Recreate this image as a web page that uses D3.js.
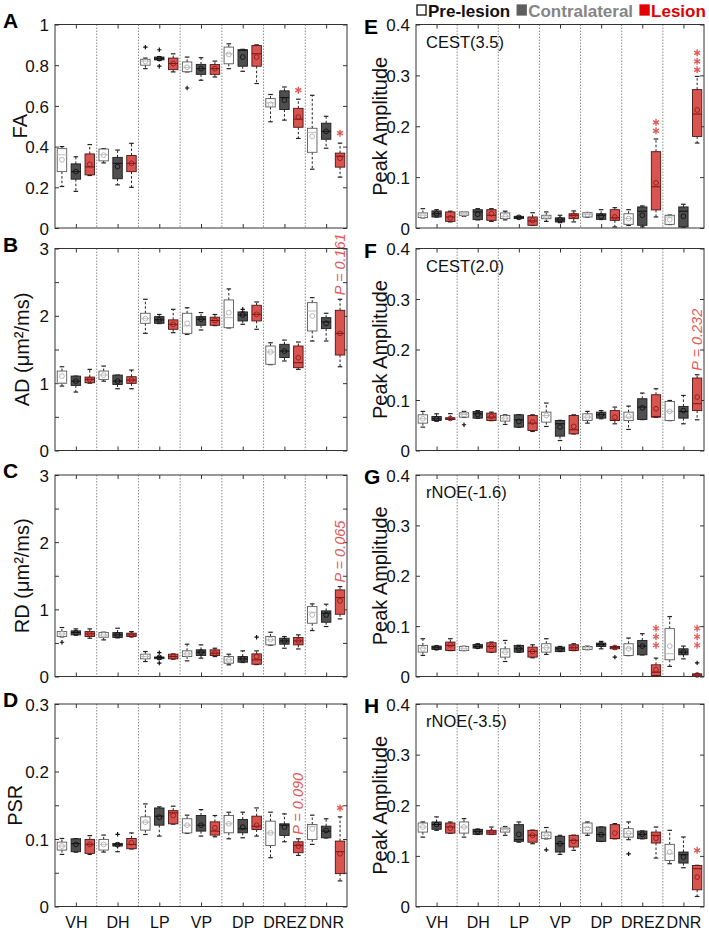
<!DOCTYPE html>
<html>
<head>
<meta charset="utf-8">
<script src="https://cdn.jsdelivr.net/npm/d3@7"></script>
<style>
  body { margin: 0; background: #fff; }
  text { font-family: "Liberation Sans", Arial, sans-serif; }
</style>
</head>
<body>
<svg id="fig" width="709" height="934"></svg>
<script>
const groups = ["VH", "DH", "LP", "VP", "DP", "DREZ", "DNR"];
const conditions = ["Pre-lesion", "Contralateral", "Lesion"];

// each row: [low whisker, q1, median, q3, high whisker, mean]; 3 rows per group (pre, contra, lesion)
const faBoxes = [
  [0.204, 0.277, 0.36, 0.39, 0.40, 0.335], [0.18, 0.24, 0.277, 0.315, 0.35, 0.277], [0.258, 0.261, 0.30, 0.364, 0.41, 0.313],
  [0.32, 0.33, 0.36, 0.388, 0.39, 0.358], [0.212, 0.242, 0.318, 0.347, 0.383, 0.302], [0.2, 0.277, 0.318, 0.356, 0.416, 0.318],
  [0.783, 0.80, 0.82, 0.829, 0.835, 0.818], [0.824, 0.826, 0.832, 0.84, 0.842, 0.832], [0.767, 0.778, 0.808, 0.835, 0.856, 0.808],
  [0.767, 0.768, 0.79, 0.816, 0.84, 0.79], [0.726, 0.755, 0.783, 0.804, 0.837, 0.783], [0.742, 0.755, 0.783, 0.803, 0.82, 0.783],
  [0.783, 0.807, 0.856, 0.889, 0.905, 0.853], [0.77, 0.795, 0.873, 0.876, 0.878, 0.84], [0.71, 0.795, 0.856, 0.897, 0.9, 0.84],
  [0.522, 0.595, 0.615, 0.636, 0.656, 0.608], [0.53, 0.582, 0.641, 0.674, 0.693, 0.628], [0.44, 0.495, 0.535, 0.588, 0.633, 0.545],
  [0.289, 0.372, 0.47, 0.49, 0.652, 0.45], [0.392, 0.436, 0.475, 0.515, 0.549, 0.475], [0.25, 0.299, 0.353, 0.368, 0.417, 0.343]
];
const adBoxes = [
  [0.957, 0.997, 1.006, 1.18, 1.244, 1.105], [0.868, 0.967, 1.03, 1.105, 1.105, 1.03], [1.0, 1.006, 1.056, 1.09, 1.205, 1.056],
  [1.03, 1.056, 1.12, 1.18, 1.254, 1.12], [0.917, 0.98, 1.03, 1.12, 1.12, 1.03], [0.917, 0.997, 1.046, 1.096, 1.195, 1.046],
  [1.74, 1.889, 1.958, 2.038, 2.246, 1.958], [1.885, 1.889, 1.94, 1.988, 2.02, 1.94], [1.75, 1.8, 1.874, 1.94, 2.097, 1.874],
  [1.725, 1.74, 1.85, 2.038, 2.12, 1.889], [1.79, 1.86, 1.95, 1.988, 2.048, 1.95], [1.855, 1.86, 1.93, 1.98, 2.02, 1.93],
  [1.82, 1.824, 1.973, 2.236, 2.4, 2.048], [1.874, 1.924, 2.013, 2.058, 2.058, 2.013], [1.8, 1.924, 2.023, 2.157, 2.206, 2.023],
  [1.275, 1.28, 1.463, 1.552, 1.60, 1.463], [1.33, 1.38, 1.477, 1.577, 1.64, 1.477], [1.205, 1.23, 1.304, 1.552, 1.611, 1.378],
  [1.626, 1.775, 2.072, 2.196, 2.27, 1.998], [1.626, 1.81, 1.909, 1.973, 2.038, 1.889], [1.244, 1.418, 1.74, 2.082, 2.246, 1.74]
];
const rdBoxes = [
  [0.59, 0.595, 0.635, 0.669, 0.729, 0.635], [0.615, 0.62, 0.654, 0.679, 0.709, 0.654], [0.57, 0.595, 0.635, 0.669, 0.709, 0.635],
  [0.545, 0.585, 0.62, 0.654, 0.66, 0.62], [0.575, 0.58, 0.62, 0.654, 0.719, 0.62], [0.59, 0.595, 0.62, 0.645, 0.669, 0.62],
  [0.223, 0.263, 0.297, 0.332, 0.372, 0.297], [0.255, 0.265, 0.283, 0.29, 0.3, 0.283], [0.258, 0.263, 0.297, 0.332, 0.336, 0.297],
  [0.233, 0.297, 0.337, 0.382, 0.481, 0.337], [0.273, 0.312, 0.362, 0.397, 0.471, 0.362], [0.297, 0.312, 0.347, 0.397, 0.421, 0.347],
  [0.174, 0.198, 0.248, 0.297, 0.332, 0.248], [0.208, 0.213, 0.263, 0.297, 0.382, 0.263], [0.178, 0.183, 0.248, 0.337, 0.382, 0.297],
  [0.466, 0.471, 0.545, 0.595, 0.659, 0.55], [0.421, 0.481, 0.53, 0.57, 0.595, 0.53], [0.41, 0.471, 0.53, 0.58, 0.62, 0.53],
  [0.684, 0.793, 0.957, 1.041, 1.081, 0.917], [0.744, 0.808, 0.942, 0.977, 1.076, 0.917], [0.858, 0.927, 1.175, 1.289, 1.339, 1.125]
];
const psrBoxes = [
  [0.0772, 0.0836, 0.0895, 0.0954, 0.1008, 0.0895], [0.0805, 0.0812, 0.093, 0.1003, 0.1006, 0.092], [0.0772, 0.0787, 0.092, 0.0994, 0.105, 0.092],
  [0.0807, 0.0836, 0.092, 0.0994, 0.1058, 0.092], [0.0812, 0.0895, 0.0915, 0.0935, 0.0938, 0.0915], [0.0852, 0.0856, 0.092, 0.1008, 0.109, 0.0944],
  [0.1067, 0.1131, 0.125, 0.1328, 0.152, 0.125], [0.1043, 0.1205, 0.1338, 0.146, 0.1476, 0.1323], [0.122, 0.1225, 0.1387, 0.142, 0.1486, 0.1348],
  [0.1085, 0.109, 0.1205, 0.13, 0.1353, 0.1205], [0.1043, 0.1117, 0.1205, 0.1348, 0.1436, 0.1205], [0.1033, 0.1058, 0.1117, 0.1254, 0.1348, 0.1166],
  [0.1003, 0.1092, 0.1225, 0.1348, 0.1397, 0.1225], [0.1018, 0.1092, 0.1151, 0.1289, 0.1397, 0.1176], [0.1043, 0.1141, 0.119, 0.1338, 0.146, 0.1205],
  [0.0723, 0.0905, 0.109, 0.1264, 0.1397, 0.109], [0.0959, 0.1053, 0.1205, 0.1225, 0.1372, 0.1176], [0.0757, 0.0797, 0.0905, 0.0959, 0.1003, 0.0895],
  [0.092, 0.0994, 0.119, 0.1215, 0.1353, 0.1151], [0.1015, 0.1018, 0.1117, 0.119, 0.13, 0.1126], [0.0379, 0.0487, 0.0812, 0.0969, 0.1328, 0.0782]
];
const cest35Boxes = [
  [0.02, 0.0204, 0.025, 0.0296, 0.038, 0.025], [0.0214, 0.0217, 0.028, 0.0336, 0.036, 0.028], [0.012, 0.013, 0.0217, 0.0316, 0.033, 0.02],
  [0.023, 0.025, 0.028, 0.0316, 0.032, 0.028], [0.016, 0.0164, 0.0316, 0.036, 0.038, 0.027], [0.013, 0.015, 0.025, 0.036, 0.038, 0.028],
  [0.016, 0.0184, 0.023, 0.0296, 0.033, 0.023], [0.018, 0.0184, 0.021, 0.023, 0.0234, 0.021], [0.005, 0.0053, 0.0138, 0.0217, 0.03, 0.015],
  [0.013, 0.0184, 0.0217, 0.025, 0.0316, 0.0217], [0.0105, 0.0118, 0.016, 0.02, 0.025, 0.017], [0.012, 0.0184, 0.025, 0.028, 0.0336, 0.025],
  [0.0214, 0.0217, 0.027, 0.03, 0.0304, 0.027], [0.0166, 0.017, 0.025, 0.028, 0.036, 0.023], [0.002, 0.015, 0.02, 0.036, 0.04, 0.0217],
  [0.005, 0.0072, 0.0184, 0.028, 0.036, 0.0184], [0.002, 0.0053, 0.033, 0.0414, 0.0434, 0.025], [0.0217, 0.0355, 0.081, 0.15, 0.175, 0.0887],
  [0.0068, 0.0072, 0.0217, 0.025, 0.0254, 0.0164], [0.0016, 0.002, 0.033, 0.0414, 0.0467, 0.023], [0.167, 0.18, 0.224, 0.272, 0.298, 0.232]
];
const cest20Boxes = [
  [0.0463, 0.0542, 0.0628, 0.0707, 0.0774, 0.0628], [0.058, 0.0595, 0.0628, 0.0674, 0.0727, 0.0628], [0.0612, 0.0615, 0.0628, 0.0648, 0.073, 0.0635],
  [0.0657, 0.0661, 0.0714, 0.0747, 0.0774, 0.0714], [0.0637, 0.0641, 0.0727, 0.0774, 0.079, 0.0714], [0.0591, 0.0595, 0.0661, 0.074, 0.076, 0.0674],
  [0.0516, 0.0582, 0.064, 0.0694, 0.0707, 0.064], [0.046, 0.0463, 0.0608, 0.0707, 0.071, 0.0575], [0.0377, 0.0397, 0.0542, 0.0694, 0.0707, 0.0562],
  [0.0476, 0.0562, 0.0694, 0.076, 0.0939, 0.0694], [0.0198, 0.0284, 0.0529, 0.0595, 0.0598, 0.0463], [0.0327, 0.033, 0.041, 0.0694, 0.0707, 0.0476],
  [0.0542, 0.0595, 0.0661, 0.0727, 0.0774, 0.0661], [0.0628, 0.0641, 0.0707, 0.076, 0.079, 0.0707], [0.0529, 0.0595, 0.0598, 0.079, 0.086, 0.0661],
  [0.0417, 0.0595, 0.0661, 0.076, 0.088, 0.068], [0.0612, 0.0615, 0.086, 0.1025, 0.1137, 0.0846], [0.0658, 0.0661, 0.0674, 0.1104, 0.1223, 0.0826],
  [0.0592, 0.0595, 0.0774, 0.0972, 0.099, 0.0774], [0.0529, 0.0641, 0.0774, 0.0873, 0.109, 0.079], [0.0608, 0.079, 0.0926, 0.1435, 0.15, 0.1058]
];
const rnoe16Boxes = [
  [0.0418, 0.0484, 0.0564, 0.0617, 0.075, 0.055], [0.0534, 0.0537, 0.057, 0.0604, 0.0607, 0.057], [0.0514, 0.0517, 0.0617, 0.0683, 0.075, 0.063],
  [0.0514, 0.0517, 0.055, 0.0597, 0.06, 0.055], [0.0561, 0.0564, 0.0597, 0.0637, 0.065, 0.0597], [0.0481, 0.0484, 0.0597, 0.067, 0.0683, 0.0597],
  [0.0298, 0.0385, 0.0484, 0.055, 0.0716, 0.0484], [0.0481, 0.0484, 0.055, 0.0617, 0.062, 0.055], [0.0371, 0.0385, 0.0497, 0.0584, 0.063, 0.0497],
  [0.0438, 0.0484, 0.057, 0.065, 0.075, 0.057], [0.0494, 0.0497, 0.055, 0.0584, 0.0597, 0.055], [0.0514, 0.0517, 0.057, 0.063, 0.065, 0.057],
  [0.0534, 0.0537, 0.057, 0.0597, 0.0604, 0.057], [0.055, 0.0597, 0.0637, 0.0663, 0.0697, 0.0637], [0.0547, 0.055, 0.0575, 0.0597, 0.06, 0.0575],
  [0.0415, 0.0418, 0.0564, 0.065, 0.0763, 0.055], [0.0428, 0.0431, 0.0604, 0.0716, 0.085, 0.0604], [0.0017, 0.002, 0.0086, 0.0232, 0.0365, 0.0133],
  [0.02, 0.0332, 0.0451, 0.095, 0.119, 0.0604], [0.035, 0.0431, 0.0484, 0.055, 0.0604, 0.0484], [0.0004, 0.0007, 0.003, 0.0053, 0.0056, 0.003]
];
const rnoe35Boxes = [
  [0.137, 0.147, 0.157, 0.165, 0.167, 0.157], [0.1505, 0.1525, 0.162, 0.167, 0.177, 0.162], [0.1447, 0.145, 0.157, 0.165, 0.167, 0.155],
  [0.137, 0.145, 0.157, 0.167, 0.1736, 0.157], [0.1423, 0.1426, 0.1485, 0.1525, 0.1528, 0.1485], [0.1423, 0.1426, 0.147, 0.1505, 0.157, 0.147],
  [0.1406, 0.147, 0.152, 0.155, 0.158, 0.152], [0.127, 0.1287, 0.132, 0.1617, 0.167, 0.1426], [0.124, 0.127, 0.1406, 0.1505, 0.1508, 0.1406],
  [0.1337, 0.134, 0.1406, 0.147, 0.156, 0.1406], [0.103, 0.1076, 0.124, 0.1386, 0.1406, 0.124], [0.111, 0.1175, 0.1307, 0.1406, 0.1409, 0.129],
  [0.1406, 0.145, 0.156, 0.165, 0.167, 0.154], [0.1284, 0.1287, 0.142, 0.157, 0.1573, 0.142], [0.1337, 0.134, 0.1343, 0.1617, 0.1637, 0.145],
  [0.132, 0.137, 0.144, 0.1538, 0.167, 0.145], [0.1337, 0.134, 0.1426, 0.149, 0.1493, 0.1426], [0.0957, 0.1254, 0.1406, 0.147, 0.157, 0.135],
  [0.0845, 0.091, 0.104, 0.1228, 0.1505, 0.1076], [0.0766, 0.0858, 0.1023, 0.1076, 0.1373, 0.0977], [0.0198, 0.033, 0.0746, 0.081, 0.0813, 0.058]
];

// outliers: [box index, value]
const faOutliers = [[6, 0.889], [7, 0.876], [7, 0.795], [9, 0.688]];
const adOutliers = [[13, 2.097]];
const rdOutliers = [[0, 0.51], [7, 0.355], [7, 0.2], [14, 0.585]];
const psrOutliers = [[4, 0.107]];
const cest35Outliers = [];
const cest20Outliers = [[3, 0.051]];
const rnoe16Outliers = [[14, 0.0385], [20, 0.027]];
const rnoe35Outliers = [[9, 0.112], [15, 0.104]];

// significance stars: [box index, value of lowest star, count]
const faStars = [[17, 0.677, 1], [20, 0.466, 1]];
const psrStars = [[20, 0.146, 1]];
const cest35Stars = [[17, 0.191, 2], [20, 0.311, 3]];
const rnoe16Stars = [[17, 0.062, 3], [20, 0.062, 3]];
const rnoe35Stars = [[20, 0.111, 1]];

// p-value notes: [box index, text]
const adNotes = [[20, "P = 0.161"]];
const rdNotes = [[20, "P = 0.065"]];
const psrNotes = [[17, "P = 0.090"]];
const cest20Notes = [[20, "P = 0.232"]];

const svg = d3.select("#fig");

const rows = [{top: 24.5, bottom: 228}, {top: 248.5, bottom: 450.5}, {top: 475, bottom: 676.5}, {top: 704, bottom: 906.5}];
const cols = [{left: 55, right: 347, letterX: 3, labelX: 29}, {left: 416, right: 704, letterX: 364, labelX: 387}];

const panels = [
  {letter: "A", col: 0, row: 0, boxes: faBoxes, outliers: faOutliers, stars: faStars, notes: [], domain: [0, 1], tick: 0.2, label: 0.2, ylabel: "FA", labelX: 27},
  {letter: "B", col: 0, row: 1, boxes: adBoxes, outliers: adOutliers, stars: [], notes: adNotes, domain: [0, 3], tick: 0.5, label: 1, ylabel: "AD (μm²/ms)"},
  {letter: "C", col: 0, row: 2, boxes: rdBoxes, outliers: rdOutliers, stars: [], notes: rdNotes, domain: [0, 3], tick: 0.5, label: 1, ylabel: "RD (μm²/ms)"},
  {letter: "D", col: 0, row: 3, boxes: psrBoxes, outliers: psrOutliers, stars: psrStars, notes: psrNotes, domain: [0, 0.3], tick: 0.05, label: 0.1, ylabel: "PSR", labelX: 22},
  {letter: "E", col: 1, row: 0, boxes: cest35Boxes, outliers: cest35Outliers, stars: cest35Stars, notes: [], domain: [0, 0.4], tick: 0.1, label: 0.1, ylabel: "Peak Amplitude", title: "CEST(3.5)"},
  {letter: "F", col: 1, row: 1, boxes: cest20Boxes, outliers: cest20Outliers, stars: [], notes: cest20Notes, domain: [0, 0.4], tick: 0.1, label: 0.1, ylabel: "Peak Amplitude", title: "CEST(2.0)"},
  {letter: "G", col: 1, row: 2, boxes: rnoe16Boxes, outliers: rnoe16Outliers, stars: rnoe16Stars, notes: [], domain: [0, 0.4], tick: 0.1, label: 0.1, ylabel: "Peak Amplitude", title: "rNOE(-1.6)"},
  {letter: "H", col: 1, row: 3, boxes: rnoe35Boxes, outliers: rnoe35Outliers, stars: rnoe35Stars, notes: [], domain: [0, 0.4], tick: 0.1, label: 0.1, ylabel: "Peak Amplitude", title: "rNOE(-3.5)"}
];

const styles = [
  {fill: "#ffffff", stroke: "#5a5a5a", median: "#bdbdbd", mean: "#b0b0b0"},
  {fill: "#4f4f4f", stroke: "#1c1c1c", median: "#111111", mean: "#111111"},
  {fill: "#d9544f", stroke: "#4a1515", median: "#7a1212", mean: "#8e1c1c"}
];
const starColor = "#e25a57";

function drawPanel(p) {
  const c = cols[p.col], r = rows[p.row];
  const x = d3.scaleLinear().domain([0.5, 21.5]).range([c.left, c.right]);
  const y = d3.scaleLinear().domain(p.domain).range([r.bottom, r.top]);
  const g = svg.append("g");
  const unit = x(2) - x(1);
  const bw = unit * 0.68;

  // group dividers
  g.selectAll(".div").data(d3.range(1, groups.length)).join("line")
    .attr("x1", d => x(d * 3 + 0.5)).attr("x2", d => x(d * 3 + 0.5))
    .attr("y1", r.top).attr("y2", r.bottom)
    .attr("stroke", "#8a8a8a").attr("stroke-width", 1).attr("stroke-dasharray", "1.5,1.5");

  // axes
  const nT = Math.round((p.domain[1] - p.domain[0]) / p.tick);
  const ticks = d3.range(nT + 1).map(i => +(p.domain[0] + i * p.tick).toFixed(4));
  const isLabel = v => Math.abs(v / p.label - Math.round(v / p.label)) < 1e-6;
  const fmt = v => isLabel(v) ? String(+v.toFixed(3)) : "";

  const yl = g.append("g").attr("transform", `translate(${c.left},0)`)
    .call(d3.axisLeft(y).tickValues(ticks).tickSize(-4).tickPadding(6).tickFormat(fmt));
  const yr = g.append("g").attr("transform", `translate(${c.right},0)`)
    .call(d3.axisRight(y).tickValues(ticks).tickSize(-4).tickFormat(""));
  const centers = groups.map((d, i) => i * 3 + 2);
  const xb = g.append("g").attr("transform", `translate(0,${r.bottom})`)
    .call(d3.axisBottom(x).tickValues(centers).tickSize(-4).tickPadding(10)
      .tickFormat((d, i) => p.row === 3 ? groups[i] : ""));
  const xt = g.append("g").attr("transform", `translate(0,${r.top})`)
    .call(d3.axisTop(x).tickValues(centers).tickSize(-4).tickFormat(""));
  [yl, yr, xb, xt].forEach(a => {
    a.select(".domain").remove();
    a.selectAll(".tick line").attr("stroke", "#333");
    a.selectAll(".tick text").attr("fill", "#111").style("font-size", "17px")
      .style("font-family", '"Liberation Sans", Arial, sans-serif');
  });
  yl.selectAll(".tick text").attr("dy", "0.36em");
  xb.selectAll(".tick text").attr("dy", "0.71em").style("font-size", "16px");

  // boxes
  const bx = g.selectAll(".box").data(p.boxes).join("g").attr("class", "box");
  bx.each(function (d, i) {
    const s = styles[i % 3];
    const cx = x(i + 1);
    const b = d3.select(this);
    const [lo, q1, med, q3, hi, mean] = d;
    b.append("line").attr("x1", cx).attr("x2", cx).attr("y1", y(q3)).attr("y2", y(hi))
      .attr("stroke", "#222").attr("stroke-dasharray", "2.5,2");
    b.append("line").attr("x1", cx).attr("x2", cx).attr("y1", y(q1)).attr("y2", y(lo))
      .attr("stroke", "#222").attr("stroke-dasharray", "2.5,2");
    [lo, hi].forEach(v => b.append("line").attr("x1", cx - 2.3).attr("x2", cx + 2.3)
      .attr("y1", y(v)).attr("y2", y(v)).attr("stroke", "#222").attr("stroke-width", 1.2));
    b.append("rect").attr("x", cx - bw / 2).attr("width", bw)
      .attr("y", y(q3)).attr("height", Math.max(0.8, y(q1) - y(q3)))
      .attr("fill", s.fill).attr("stroke", s.stroke).attr("stroke-width", 0.9);
    b.append("line").attr("x1", cx - bw / 2).attr("x2", cx + bw / 2)
      .attr("y1", y(med)).attr("y2", y(med)).attr("stroke", s.median).attr("stroke-width", 1);
    b.append("circle").attr("cx", cx).attr("cy", y(mean)).attr("r", 2.4)
      .attr("fill", "none").attr("stroke", s.mean).attr("stroke-width", 0.9);
  });

  // outliers
  g.selectAll(".out").data(p.outliers).join("path")
    .attr("d", d => {
      const cx = x(d[0] + 1), cy = y(d[1]);
      return `M${cx - 2.2},${cy}H${cx + 2.2}M${cx},${cy - 2.2}V${cy + 2.2}`;
    })
    .attr("stroke", "#111").attr("stroke-width", 1.2);

  // stars
  p.stars.forEach(([i, v, n]) => {
    d3.range(n).forEach(k => {
      const cx = x(i + 1), cy = y(v) - k * 8.5, rr = 3.5;
      const a = Math.PI / 6;
      g.append("path")
        .attr("d", `M${cx},${cy - rr}V${cy + rr}` +
          `M${cx - rr * Math.cos(a)},${cy - rr * Math.sin(a)}L${cx + rr * Math.cos(a)},${cy + rr * Math.sin(a)}` +
          `M${cx - rr * Math.cos(a)},${cy + rr * Math.sin(a)}L${cx + rr * Math.cos(a)},${cy - rr * Math.sin(a)}`)
        .attr("stroke", starColor).attr("stroke-width", 1.4);
    });
  });

  // p-value notes
  p.notes.forEach(([i, t]) => {
    const cx = x(i + 1) + 5, cy = y(p.boxes[i][4]) - 4;
    g.append("text").attr("transform", `translate(${cx},${cy}) rotate(-90)`)
      .attr("fill", starColor).style("font-size", "14.5px").style("font-style", "italic")
      .text(t);
  });

  // frame
  g.append("rect").attr("x", c.left).attr("y", r.top)
    .attr("width", c.right - c.left).attr("height", r.bottom - r.top)
    .attr("fill", "none").attr("stroke", "#333").attr("stroke-width", 1);

  // labels
  g.append("text").attr("x", c.letterX).attr("y", r.top + (p.col === 0 ? 3 : 9))
    .style("font-size", "21px").style("font-weight", "bold").text(p.letter);
  const lx = p.labelX || c.labelX;
  g.append("text").attr("transform", `translate(${lx},${(r.top + r.bottom) / 2}) rotate(-90)`)
    .attr("text-anchor", "middle").style("font-size", "20px").attr("fill", "#111").text(p.ylabel);
  if (p.title) {
    g.append("text").attr("x", c.left + 10).attr("y", r.top + 23)
      .style("font-size", "16.5px").attr("fill", "#111").text(p.title);
  }
}

panels.forEach(drawPanel);

// legend
const legendItems = [
  {name: conditions[0], box: "#ffffff", boxStroke: "#111", text: "#111"},
  {name: conditions[1], box: "#5e5e5e", boxStroke: "#5e5e5e", text: "#858585"},
  {name: conditions[2], box: "#e00000", boxStroke: "#e00000", text: "#e00000"}
];
let lx = 416;
legendItems.forEach(it => {
  svg.append("rect").attr("x", lx + 1).attr("y", 5).attr("width", 9).attr("height", 10)
    .attr("fill", it.box).attr("stroke", it.boxStroke).attr("stroke-width", 1.3);
  const t = svg.append("text").attr("x", lx + 12).attr("y", 17)
    .style("font-size", "17px").style("font-weight", "bold").attr("fill", it.text).text(it.name);
  lx += 12 + t.node().getComputedTextLength() + 6;
});
</script>
</body>
</html>
